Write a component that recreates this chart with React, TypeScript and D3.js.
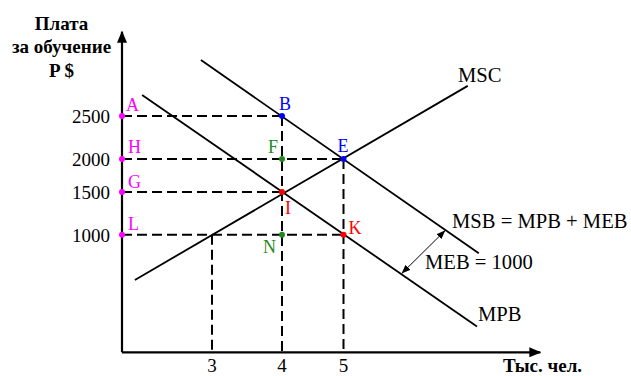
import * as d3 from "d3";

const W = 631;
const H = 376;

// tick values on the axes
const qTicks = [3, 4, 5];
const pTicks = [1000, 1500, 2000, 2500];

// the hand-drawn grid is not evenly spaced, so the scales are piecewise
const qKnots = [0, 3, 4, 5];
const pKnots = [0, 1000, 1500, 2000, 2500];
const qAxisEnd = 8.2;
const pAxisEnd = 3480;

// curves: endpoints as [thousand people, price $]
const mscLine: [number, number][] = [[0.43, 615], [7.02, 2850]];
const mpbLine: [number, number][] = [[0.67, 2745], [7.17, 220]];
const msbLine: [number, number][] = [[2.63, 3150], [7.2, 842]];
const mebArrow: [number, number][] = [[5.95, 672], [6.65, 1047]];

// dashed guides: [from, to]
const guides: [number, number][][] = [
  [[0, 2500], [4, 2500]],
  [[0, 2000], [5, 2000]],
  [[0, 1500], [4, 1500]],
  [[0, 1000], [5, 1000]],
  [[4, 2500], [4, 0]],
  [[5, 2000], [5, 0]],
  [[3, 1000], [3, 0]],
];

// marked points
const pointNames = ["A", "H", "G", "L", "B", "F", "I", "N", "E", "K"];
const pointQ = [0, 0, 0, 0, 4, 4, 4, 4, 5, 5];
const pointP = [2500, 2000, 1500, 1000, 2500, 2000, 1500, 1000, 2000, 1000];
const pointColor = [
  "#ff00ff", "#ff00ff", "#ff00ff", "#ff00ff",
  "#0000ff", "#1f8a1f", "#ff0000", "#1f8a1f", "#0000ff", "#ff0000",
];

// label offsets from the point, in px
const labelOffset: Record<string, [number, number]> = {
  A: [4, -5], H: [6, -6], G: [6, -4], L: [6, -5],
  B: [-3, -6], F: [-14, -6], I: [3, 22], N: [-19, 18],
  E: [-6, -7], K: [5, -1],
};

const serif = { fontFamily: '"Liberation Serif", serif' };
const serifBold = { fontFamily: '"Liberation Serif", serif', fontWeight: "bold" as const };

export default function App() {
  const x = d3.scaleLinear().domain(qKnots).range([122, 212, 282, 343.5]);
  const y = d3.scaleLinear().domain(pKnots).range([352.3, 234.7, 192, 159, 116]);

  const line = d3
    .line<[number, number]>()
    .x(d => x(d[0]))
    .y(d => y(d[1]));

  return (
    <div style={{ position: "fixed", left: 0, top: 0 }}>
      <svg width={W} height={H} style={{ display: "block", background: "#fff" }}>
        <defs>
          <marker id="axisHead" viewBox="0 0 12 10" refX="11" refY="5" markerWidth="12" markerHeight="10"
            markerUnits="userSpaceOnUse" orient="auto">
            <path d="M0,0 L12,5 L0,10 Z" fill="#000" />
          </marker>
          <marker id="smallHead" viewBox="0 0 9 7" refX="8.5" refY="3.5" markerWidth="9" markerHeight="7"
            markerUnits="userSpaceOnUse" orient="auto-start-reverse">
            <path d="M0,0 L9,3.5 L0,7 Z" fill="#000" />
          </marker>
        </defs>

        {/* dashed guides */}
        {guides.map((g, i) => (
          <path key={i} d={line(g) ?? ""} fill="none" stroke="#000" strokeWidth={2}
            strokeDasharray="10,5" />
        ))}

        {/* axes */}
        <line x1={x(0)} y1={y(0)} x2={x(0)} y2={y(pAxisEnd)} stroke="#000" strokeWidth={2.2}
          markerEnd="url(#axisHead)" />
        <line x1={x(0)} y1={y(0)} x2={x(qAxisEnd)} y2={y(0)} stroke="#000" strokeWidth={2.2}
          markerEnd="url(#axisHead)" />

        {/* curves */}
        {[mscLine, mpbLine, msbLine].map((c, i) => (
          <path key={i} d={line(c) ?? ""} fill="none" stroke="#000" strokeWidth={1.8} />
        ))}
        <path d={line(mebArrow) ?? ""} fill="none" stroke="#000" strokeWidth={1}
          markerStart="url(#smallHead)" markerEnd="url(#smallHead)" />

        {/* tick labels */}
        {pTicks.map(v => (
          <text key={v} x={110} y={y(v) + 7} textAnchor="end" fontSize={19} style={serif}>{v}</text>
        ))}
        {qTicks.map(v => (
          <text key={v} x={x(v)} y={372} textAnchor="middle" fontSize={19} style={serif}>{v}</text>
        ))}

        {/* axis titles */}
        <g fontSize={19} textAnchor="middle">
          <text x={61.5} y={30} style={serifBold}>Плата</text>
          <text x={61.5} y={53} style={serifBold}>за обучение</text>
          <text x={61.5} y={77} style={serifBold}>P $</text>
        </g>
        <text x={503} y={372} fontSize={19} style={serifBold}>Тыс. чел.</text>

        {/* curve labels */}
        <g fontSize={20.6}>
          <text x={458} y={82} style={serif}>MSC</text>
          <text x={452} y={228} style={serif}>MSB = MPB + MEB</text>
          <text x={425} y={269} style={serif}>MEB = 1000</text>
          <text x={478} y={321} style={serif}>MPB</text>
        </g>

        {/* points */}
        {pointNames.map((n, i) => (
          <g key={n} fill={pointColor[i]}>
            <circle cx={x(pointQ[i])} cy={y(pointP[i])} r={3} />
            <text x={x(pointQ[i]) + labelOffset[n][0]} y={y(pointP[i]) + labelOffset[n][1]}
              fontSize={18} style={serif}>{n}</text>
          </g>
        ))}
      </svg>
    </div>
  );
}
